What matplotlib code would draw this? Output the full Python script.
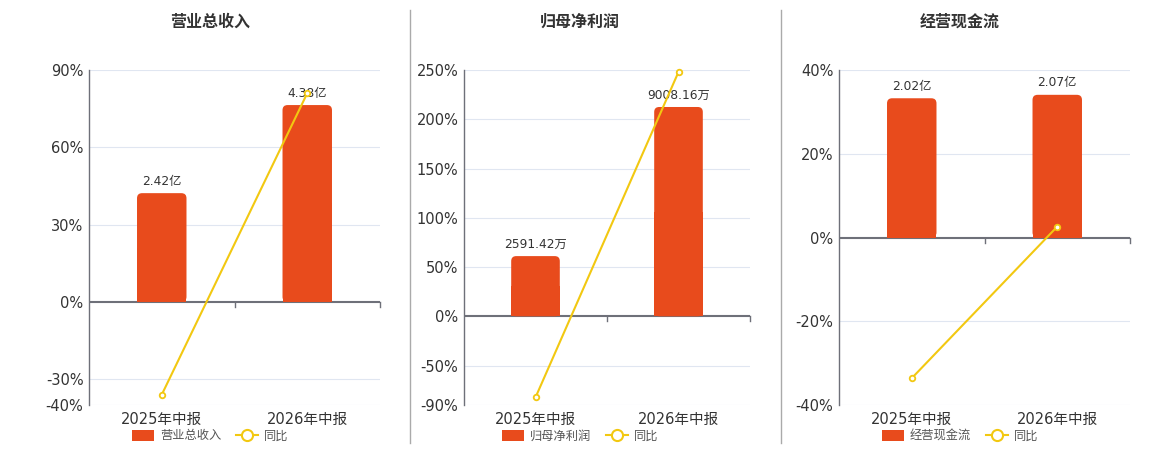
import matplotlib.pyplot as plt
import matplotlib.transforms as mtransforms
from matplotlib.lines import Line2D
from matplotlib.patches import Patch, FancyBboxPatch

plt.rcParams['font.family'] = ['DejaVu Sans', 'Noto Sans CJK SC']

categories = ['2025年中报', '2026年中报']

titles = ['营业总收入', '归母净利润', '经营现金流']
bar_values = [[2.42, 4.38], [2591.42, 9008.16], [2.02, 2.07]]
bar_labels = [['2.42亿', '4.38亿'], ['2591.42万', '9008.16万'], ['2.02亿', '2.07亿']]
yoy_values = [[-36.0, 81.0], [-82.3, 248.0], [-33.6, 2.6]]
left_ticks = [[-40, -30, 0, 30, 60, 90],
              [-90, -50, 0, 50, 100, 150, 200, 250],
              [-40, -20, 0, 20, 40]]
# right (hidden) axis top for bars, bottom follows from left zero alignment
bar_axis_top = [5.16, 10600, 2.43]

bar_color = '#e84b1c'
line_color = '#f2c811'
text_color = '#333333'
axis_color = '#6e7079'
grid_color = '#e0e6f1'

W, H = 1160, 450
fig = plt.figure(figsize=(W / 100, H / 100), dpi=100)

# pixel boxes: (left, right, top, bottom)
boxes = [(89, 380, 70, 405), (464, 750, 70, 405), (839, 1130, 70, 405)]
title_x = [210, 580, 960]
legend_x = [210, 580, 960]
bar_w = 0.34

for i in range(3):
    l, r, t, b = boxes[i]
    ax = fig.add_axes([l / W, 1 - b / H, (r - l) / W, (b - t) / H])
    ticks = left_ticks[i]
    lo, hi = ticks[0], ticks[-1]
    ax.set_ylim(lo, hi)
    ax.set_xlim(-0.5, 1.5)
    ax.set_yticks(ticks)
    ax.set_yticklabels([f'{v}%' for v in ticks], fontsize=10.5, color=text_color)
    ax.set_xticks([0, 1])
    ax.set_xticklabels(categories, fontsize=10.5, color=text_color)
    ax.tick_params(axis='both', length=0, pad=4)
    ax.tick_params(axis='x', pad=5)
    for v in ticks:
        if v != 0:
            ax.axhline(v, color=grid_color, lw=0.8, zorder=0)
    for s in ['top', 'right', 'bottom']:
        ax.spines[s].set_visible(False)
    ax.spines['left'].set_color(axis_color)
    ax.spines['left'].set_linewidth(1)

    ax2 = ax.twinx()
    top = bar_axis_top[i]
    ylo2 = top * lo / hi
    ax2.set_ylim(ylo2, top)
    ax2.set_xlim(-0.5, 1.5)
    ax2.set_axis_off()
    # rounded top bars: rounded box plus square lower half
    aspect = ((top - ylo2) / (b - t)) / (2.0 / (r - l))
    bars = ax2.bar([0, 1], [v / 2 for v in bar_values[i]], width=bar_w,
                   color=bar_color, zorder=2)
    for x, v in zip([0, 1], bar_values[i]):
        ax2.add_patch(FancyBboxPatch((x - bar_w / 2, 0), bar_w, v,
                                     boxstyle='round,pad=0,rounding_size=0.035',
                                     mutation_aspect=aspect, facecolor=bar_color,
                                     edgecolor='none', zorder=2))
    for x, v, lab in zip([0, 1], bar_values[i], bar_labels[i]):
        ax2.annotate(lab, (x, v), xytext=(0, 4), textcoords='offset points',
                     ha='center', va='bottom', fontsize=8.8, color=text_color)

    ax2.plot([0, 1], yoy_values[i], color=line_color, lw=1.5, marker='o',
             markersize=4, markerfacecolor='white', markeredgecolor=line_color,
             markeredgewidth=1.3, zorder=5, transform=ax.transData, clip_on=False)
    # zero axis line with category boundary ticks
    ax.axhline(0, color=axis_color, lw=1.5, zorder=3)
    trans = mtransforms.blended_transform_factory(ax.transData, ax.transData)
    tick_len = (hi - lo) * 5 / (b - t)
    for xb in [0.5, 1.5]:
        ax.plot([xb, xb], [0, -tick_len], color=axis_color, lw=1, transform=trans,
                clip_on=False, zorder=3)

    fig.text(title_x[i] / W, 1 - 22 / H, titles[i], ha='center', va='center',
             fontsize=11.5, fontweight='bold', color=text_color)

    handles = [Patch(facecolor=bar_color, edgecolor='none'),
               Line2D([0], [0], color=line_color, lw=1.5, marker='o', markersize=8,
                      markerfacecolor='white', markeredgecolor=line_color,
                      markeredgewidth=1.5)]
    fig.legend(handles, [titles[i], '同比'], loc='center',
               bbox_to_anchor=(legend_x[i] / W, 1 - 436 / H), ncol=2, frameon=False,
               fontsize=8.8, handlelength=1.8, handleheight=1.0, columnspacing=1.2,
               handletextpad=0.5, labelcolor='#555555')

# panel separators
for xs in [410, 781]:
    fig.add_artist(Line2D([xs / W, xs / W], [1 - 443 / H, 1 - 10 / H],
                          color='#aaaaaa', lw=1))

fig.savefig('out.png', dpi=100)
